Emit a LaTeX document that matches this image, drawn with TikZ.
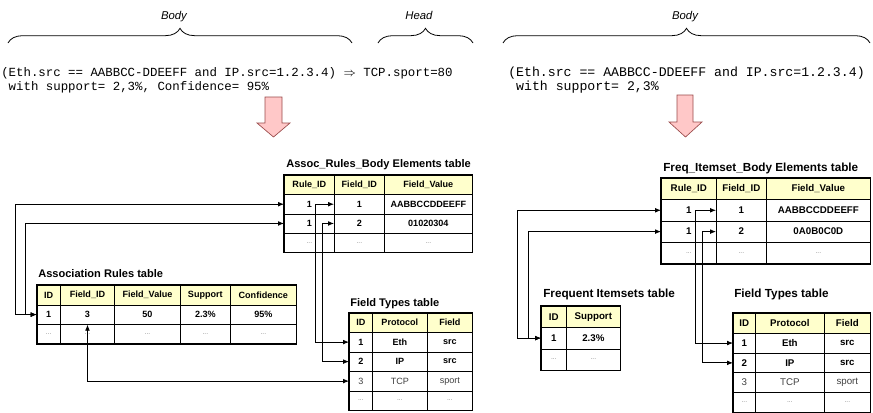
\documentclass[tikz,border=0pt]{standalone}
\usepackage{fontspec}
\setmainfont{Liberation Sans}
\setmonofont{Liberation Mono}
\usetikzlibrary{decorations.pathreplacing,arrows.meta}
\definecolor{hdrfill}{HTML}{FFFFCC}
\definecolor{arrfill}{HTML}{FFC8C8}
\definecolor{arrline}{HTML}{9A4A4A}
\newcommand{\cellsize}{\fontsize{6.8}{8}\selectfont}
\newcommand{\titlesize}{\fontsize{8.3}{10}\selectfont}
\newcommand{\rulesize}{\fontsize{9.3}{11}\selectfont}
\newcommand{\dotcell}{...}
\tikzstyle{tcell}=[draw, line width=0.5pt, inner sep=0pt,
                   anchor=north west, font=\cellsize\bfseries]
\tikzstyle{hcell}=[tcell, fill=hdrfill]
\tikzstyle{ncell}=[tcell, font=\cellsize, text=black!75]
\tikzstyle{dcell}=[tcell, font=\fontsize{5}{6}\selectfont, text=black!50]
\tikzstyle{tframe}=[draw, line width=1.1pt]
\tikzstyle{ttitle}=[anchor=base west, inner sep=0pt, font=\titlesize\bfseries]
\tikzstyle{rtext}=[anchor=base west, inner sep=0pt, font=\rulesize\ttfamily]
\tikzstyle{lbl}=[anchor=base, inner sep=0pt, font=\fontsize{8.5}{10}\selectfont\itshape]
\tikzstyle{brc}=[decorate, decoration={brace, amplitude=11pt}, line width=0.6pt]
\tikzstyle{bigarrow}=[fill=arrfill, draw=arrline, line width=0.5pt]
\tikzstyle{tlink}=[<->, >={Latex[length=4.5pt,width=3.6pt]}, line width=0.6pt]
\tikzset{colw/.style={minimum width=#1*0.75pt},
         rowh/.style={minimum height=#1*0.75pt}}

\begin{document}
\begin{tikzpicture}[x=0.75pt, y=-0.75pt]
  \useasboundingbox (0,0) rectangle (873,412);

  % association rule
  \node[lbl] (lb) at (174,19) {Body};
  \node[lbl] (lh) at (419,19) {Head};
  \draw[brc] (8,43) -- (352,43);
  \draw[brc] (378,43) -- (473,43);
  \node[rtext] (lr1) at (1,76) {(Eth.src == AABBCC-DDEEFF and IP.src=1.2.3.4) $\Rightarrow$ TCP.sport=80};
  \node[rtext] (lr2) at (1,90) {~with support= 2,3\%, Confidence= 95\%};
  \draw[bigarrow] (265,97) -- (282,97) -- (282,123) -- (290,123) -- (273.5,137)
                  -- (257,123) -- (265,123) -- cycle;

  % Assoc_Rules_Body Elements table
  \node[ttitle] (ab-t) at (286,167) {Assoc\_Rules\_Body Elements table};
  \foreach \x/\w/\t/\a/\b [count=\c] in {284/50/Rule\_ID/1/1, 334/50/Field\_ID/1/2,
                                         384/88/Field\_Value/AABBCCDDEEFF/01020304}{
    \node[hcell, colw=\w, rowh=19.25] (ab-0-\c) at (\x,175) {\t};
    \node[tcell, colw=\w, rowh=19.25] (ab-1-\c) at (\x,194.25) {\a};
    \node[tcell, colw=\w, rowh=19.25] (ab-2-\c) at (\x,213.5) {\b};
    \node[dcell, colw=\w, rowh=19.25] (ab-3-\c) at (\x,232.75) {\dotcell};
  }
  \draw[tframe] (ab-0-1.north west) rectangle (ab-3-3.south east);

  % Association Rules table
  \node[ttitle] (ar-t) at (38,277) {Association Rules table};
  \foreach \x/\w/\t/\a [count=\c] in {36.7/23.3/ID/1, 60/54.3/Field\_ID/3,
                                      114.3/65.7/Field\_Value/50, 180/50/Support/2.3\%,
                                      230/66/Confidence/95\%}{
    \node[hcell, colw=\w, rowh=19.5] (ar-0-\c) at (\x,285) {\t};
    \node[tcell, colw=\w, rowh=19.5] (ar-1-\c) at (\x,304.5) {\a};
    \node[dcell, colw=\w, rowh=19.5] (ar-2-\c) at (\x,324) {\dotcell};
  }
  \draw[tframe] (ar-0-1.north west) rectangle (ar-2-5.south east);

  % Field Types table
  \node[ttitle] (lt-t) at (350,306) {Field Types table};
  \foreach \x/\w/\t/\a/\b/\d [count=\c] in {349/23/ID/1/2/3, 372/55/Protocol/Eth/IP/TCP,
                                            427/45/Field/src/src/sport}{
    \node[hcell, colw=\w, rowh=19.5] (lt-0-\c) at (\x,312.5) {\t};
    \node[tcell, colw=\w, rowh=19.5] (lt-1-\c) at (\x,332) {\a};
    \node[tcell, colw=\w, rowh=19.5] (lt-2-\c) at (\x,351.5) {\b};
    \node[ncell, colw=\w, rowh=19.5] (lt-3-\c) at (\x,371) {\d};
    \node[dcell, colw=\w, rowh=19.5] (lt-4-\c) at (\x,390.5) {\dotcell};
  }
  \draw[tframe] (lt-0-1.north west) rectangle (lt-4-3.south east);

  \draw[tlink] (ar-1-1.west) -- ++(-21,0) |- (ab-1-1.west);
  \draw[tlink] (ar-1-1.west) -- ++(-11.7,0) |- (ab-2-1.west);
  \draw[tlink] (ab-1-2.west) -- ([xshift=4.5pt]ab-1-1.center) |- (lt-1-1.west);
  \draw[tlink] (ab-2-2.west) -- ([xshift=9.5pt]ab-2-1.center) |- (lt-2-1.west);
  \draw[tlink] (ar-1-2.south) |- (lt-3-1.west);

  \begin{scope}
    \renewcommand{\cellsize}{\fontsize{7.3}{9}\selectfont}
    \renewcommand{\titlesize}{\fontsize{8.8}{10}\selectfont}
    \renewcommand{\rulesize}{\fontsize{9.9}{11}\selectfont}

    % frequent itemset
    \node[lbl] (rb) at (685,19) {Body};
    \draw[brc] (503,43) -- (870,43);
    \node[rtext] (rr1) at (508,76) {(Eth.src == AABBCC-DDEEFF and IP.src=1.2.3.4)};
    \node[rtext] (rr2) at (508,90) {~with support= 2,3\%};
    \draw[bigarrow] (677,95) -- (693,95) -- (693,122) -- (702,122) -- (685.5,137)
                    -- (669,122) -- (677,122) -- cycle;

    % Freq_Itemset_Body Elements table
    \node[ttitle] (fb-t) at (663,171.5) {Freq\_Itemset\_Body Elements table};
    \foreach \x/\w/\t/\a/\b [count=\c] in {661/55/Rule\_ID/1/1, 716/50/Field\_ID/1/2,
                                           766/104/Field\_Value/AABBCCDDEEFF/0A0B0C0D}{
      \node[hcell, colw=\w, rowh=21.3] (fb-0-\c) at (\x,178) {\t};
      \node[tcell, colw=\w, rowh=21.3] (fb-1-\c) at (\x,199.3) {\a};
      \node[tcell, colw=\w, rowh=21.3] (fb-2-\c) at (\x,220.6) {\b};
      \node[dcell, colw=\w, rowh=21.3] (fb-3-\c) at (\x,241.9) {\dotcell};
    }
    \draw[tframe] (fb-0-1.north west) rectangle (fb-3-3.south east);

    % Frequent Itemsets table
    \node[ttitle] (fi-t) at (543,297.5) {Frequent Itemsets table};
    \foreach \x/\w/\t/\a [count=\c] in {541/25/ID/1, 566/54/Support/2.3\%}{
      \node[hcell, colw=\w, rowh=21.4] (fi-0-\c) at (\x,305.7) {\t};
      \node[tcell, colw=\w, rowh=21.4] (fi-1-\c) at (\x,327.1) {\a};
      \node[dcell, colw=\w, rowh=21.4] (fi-2-\c) at (\x,348.5) {\dotcell};
    }
    \draw[tframe] (fi-0-1.north west) rectangle (fi-2-2.south east);

    % Field Types table
    \node[ttitle] (rt-t) at (734,297.5) {Field Types table};
    \foreach \x/\w/\t/\a/\b/\d [count=\c] in {733/22/ID/1/2/3, 755/69/Protocol/Eth/IP/TCP,
                                              824/46/Field/src/src/sport}{
      \node[hcell, colw=\w, rowh=19.8] (rt-0-\c) at (\x,313) {\t};
      \node[tcell, colw=\w, rowh=19.8] (rt-1-\c) at (\x,332.8) {\a};
      \node[tcell, colw=\w, rowh=19.8] (rt-2-\c) at (\x,352.6) {\b};
      \node[ncell, colw=\w, rowh=19.8] (rt-3-\c) at (\x,372.4) {\d};
      \node[dcell, colw=\w, rowh=19.8] (rt-4-\c) at (\x,392.2) {\dotcell};
    }
    \draw[tframe] (rt-0-1.north west) rectangle (rt-4-3.south east);

    \draw[tlink] (fi-1-1.west) -- ++(-23.4,0) |- (fb-1-1.west);
    \draw[tlink] (fi-1-1.west) -- ++(-12.7,0) |- (fb-2-1.west);
    \draw[tlink] (fb-1-2.west) -- ([xshift=4.9pt]fb-1-1.center) |- (rt-1-1.west);
    \draw[tlink] (fb-2-2.west) -- ([xshift=9.9pt]fb-2-1.center) |- (rt-2-1.west);
  \end{scope}
\end{tikzpicture}
\end{document}
